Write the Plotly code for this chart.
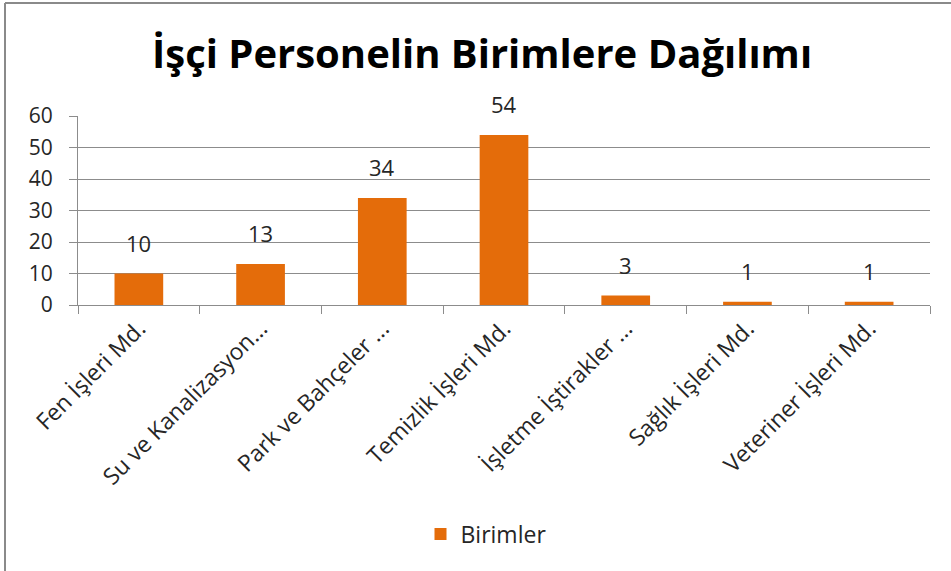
import plotly.graph_objects as go

categories = ["Fen İşleri Md.", "Su ve Kanalizasyon...", "Park ve Bahçeler ...",
              "Temizlik İşleri Md.", "İşletme İştirakler ...", "Sağlık İşleri Md.",
              "Veteriner İşleri Md."]
values = [10, 13, 34, 54, 3, 1, 1]
series_name = "Birimler"
title_text = "İşçi Personelin Birimlere Dağılımı"
y_ticks = [0, 10, 20, 30, 40, 50, 60]

W, H = 951, 571
L, R, T, B = 78, 21, 116, 266
pw, ph = W - L - R, H - T - B

def px_x(x):
    return (x - L) / pw

def px_y(y):
    return (H - B - y) / ph

FONT = "Open Sans"
orange = "#E46C0A"
grid = "#8c8c8c"

fig = go.Figure()
fig.add_trace(go.Bar(x=categories, y=values, name=series_name,
                     marker=dict(color=orange, line=dict(width=0)),
                     width=0.4))

for c, v in zip(categories, values):
    fig.add_annotation(x=c, y=v, text=str(v), showarrow=False, xref="x", yref="y",
                       yanchor="bottom", yshift=14,
                       font=dict(family=FONT, size=22, color="#262626"))

fig.add_annotation(text=title_text, xref="paper", yref="paper",
                   x=px_x(482), y=px_y(52), xanchor="center", yanchor="middle",
                   showarrow=False,
                   font=dict(family=FONT, size=40, color="#000000", weight="bold"))

# outer chart border (top and left visible)
fig.add_shape(type="line", xref="paper", yref="paper",
              x0=px_x(5), x1=px_x(960), y0=px_y(3), y1=px_y(3),
              line=dict(color="#8a8a8a", width=2))
fig.add_shape(type="line", xref="paper", yref="paper",
              x0=px_x(5), x1=px_x(5), y0=px_y(3), y1=px_y(580),
              line=dict(color="#8a8a8a", width=2))

fig.update_layout(
    width=W, height=H,
    margin=dict(l=L, r=R, t=T, b=B, autoexpand=False),
    paper_bgcolor="white", plot_bgcolor="white",
    showlegend=True,
    legend=dict(orientation="h", x=px_x(486), y=px_y(534), xanchor="center",
                yanchor="middle", font=dict(family=FONT, size=23, color="#262626"),
                itemsizing="constant"),
    bargap=0.6,
)
fig.update_xaxes(type="category", showline=True, linecolor=grid, linewidth=1,
                 ticks="outside", tickson="boundaries", ticklen=8, tickcolor=grid,
                 tickangle=-45, showgrid=False,
                 tickfont=dict(family=FONT, size=23, color="#262626"))
fig.update_yaxes(range=[0, 60], tickvals=y_ticks, showline=True, linecolor=grid,
                 linewidth=1, ticks="outside", ticklen=8, tickcolor=grid,
                 showgrid=True, gridcolor=grid, gridwidth=1, zeroline=False,
                 ticklabelstandoff=12,
                 tickfont=dict(family=FONT, size=21, color="#262626"))

fig.write_html("out.html", config={"displayModeBar": False},
               post_script="document.body.style.margin='0';document.body.style.overflow='hidden';")
